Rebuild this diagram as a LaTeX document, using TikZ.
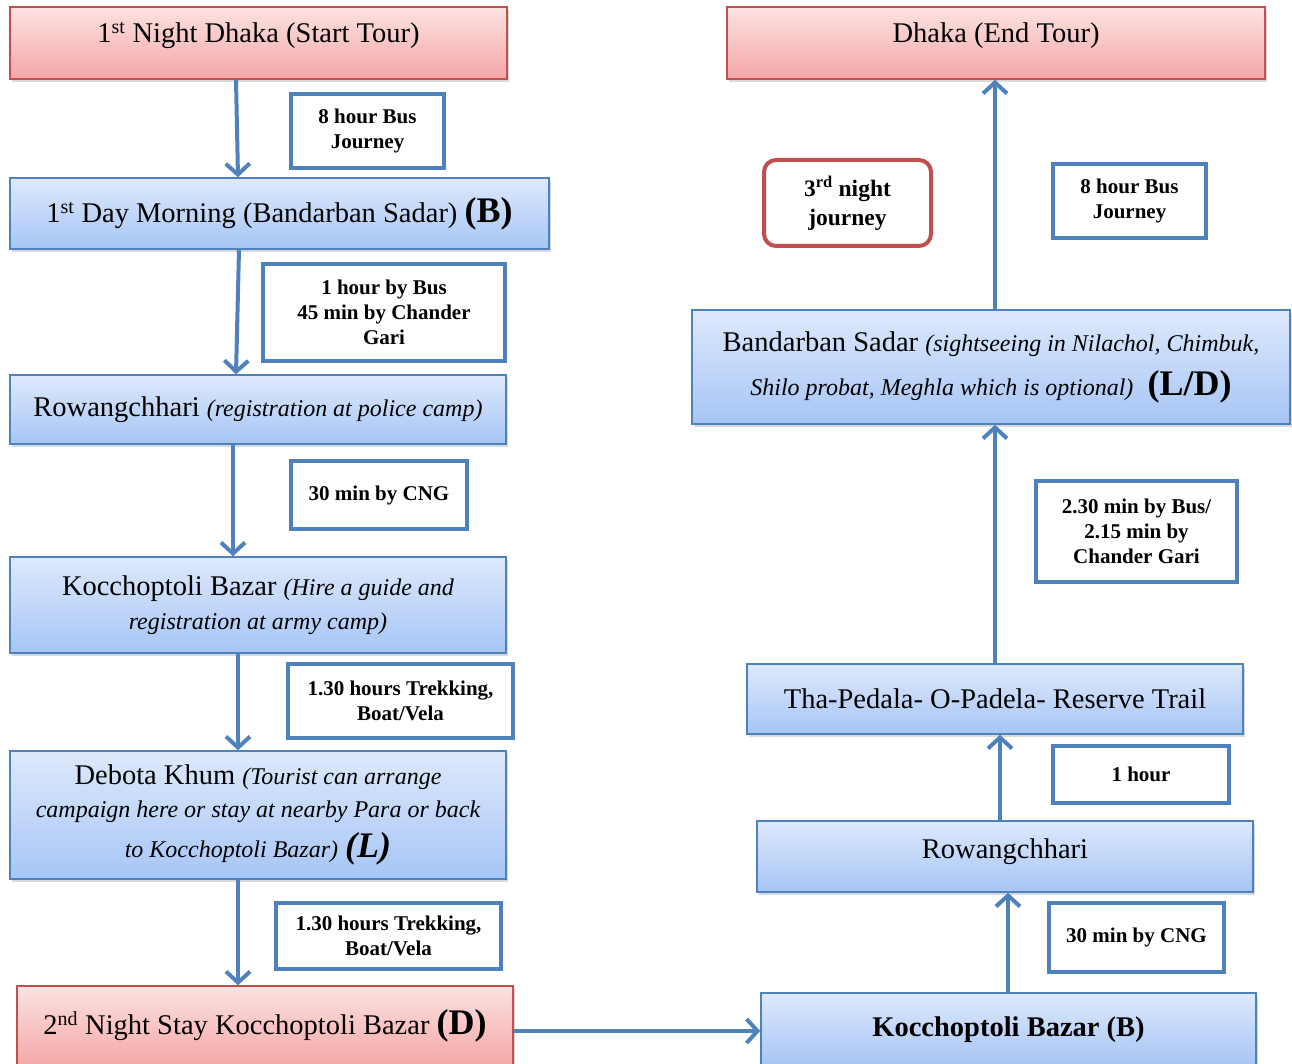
\documentclass[tikz,border=0pt]{standalone}
\usepackage{fontspec}
\setmainfont{Liberation Serif}
\usetikzlibrary{arrows.meta,shadows}
\definecolor{bordblue}{RGB}{79,129,189}
\definecolor{bordred}{RGB}{192,80,77}
\definecolor{bluetop}{RGB}{222,233,252}
\definecolor{bluebot}{RGB}{166,197,245}
\definecolor{redtop}{RGB}{253,226,226}
\definecolor{redbot}{RGB}{244,166,166}
\definecolor{arrowblue}{RGB}{79,129,189}
\newcommand\fM{\fontsize{28.5}{34}\selectfont}
\newcommand\fI{\fontsize{24}{34}\selectfont\itshape}
\newcommand\fB{\fontsize{36}{34}\selectfont\bfseries}
\newcommand\fL{\fontsize{21}{25}\selectfont\bfseries}
\begin{document}
\begin{tikzpicture}[x=1pt,y=-1pt,
 box/.style={draw, line width=1.5pt, rectangle, align=center, inner sep=0pt,
   drop shadow={shadow xshift=2pt,shadow yshift=-3pt,opacity=0.3}},
 bluebox/.style={box, draw=bordblue, top color=bluetop, bottom color=bluebot},
 redbox/.style={box, draw=bordred, top color=redtop, bottom color=redbot},
 lbl/.style={draw=bordblue, line width=4pt, fill=white, align=center, inner sep=0pt, font=\fL},
 flow/.style={draw=arrowblue, line width=4pt, -{Straight Barb[length=11pt,width=24pt,line width=4pt]}}
]
\useasboundingbox (0,0) rectangle (1292,1064);

% left column
\node[redbox, minimum width=497pt, minimum height=72pt, font=\fM, text depth=21pt] (A) at (258.5,43)
  {1\textsuperscript{st} Night Dhaka (Start Tour)};
\node[bluebox, minimum width=539pt, minimum height=71pt, font=\fM] (B) at (279.5,213.5)
  {1\textsuperscript{st} Day Morning (Bandarban Sadar) {\fB (B)}};
\node[bluebox, minimum width=496pt, minimum height=69pt, font=\fM] (C) at (258,409.5)
  {Rowangchhari {\fI (registration at police camp)}};
\node[bluebox, minimum width=496pt, minimum height=96pt, font=\fM] (D) at (258,605)
  {Kocchoptoli Bazar {\fI (Hire a guide and}\\ {\fI registration at army camp)}};
\node[bluebox, minimum width=496pt, minimum height=128pt, font=\fontsize{28.5}{33}\selectfont] (E) at (258,815)
  {Debota Khum {\fI (Tourist can arrange}\\ {\fI campaign here or stay at nearby Para or back}\\[7pt]
   {\fI to Kocchoptoli Bazar)} {\fontsize{36}{34}\selectfont\bfseries\itshape (L)}};
\node[redbox, minimum width=496pt, minimum height=80pt, font=\fM] (F) at (265,1026)
  {2\textsuperscript{nd} Night Stay Kocchoptoli Bazar {\fB (D)}};

\node[lbl, minimum width=153pt, minimum height=74pt] (L1) at (367.5,131) {8 hour Bus\\Journey};
\node[lbl, minimum width=242pt, minimum height=97pt] (L2) at (384,312.5) {1 hour by Bus\\45 min by Chander\\Gari};
\node[lbl, minimum width=176pt, minimum height=68pt] (L3) at (379,495) {30 min by CNG};
\node[lbl, minimum width=225pt, minimum height=74pt] (L4) at (400.5,701) {1.30 hours Trekking,\\Boat/Vela};
\node[lbl, minimum width=225pt, minimum height=66pt] (L5) at (388.5,936) {1.30 hours Trekking,\\Boat/Vela};

% right column
\node[redbox, minimum width=538pt, minimum height=72pt, font=\fM, text depth=21pt] (R0) at (996,43) {Dhaka (End Tour)};
\node[draw=bordred, line width=4pt, rounded corners=12pt, fill=white, align=center, inner sep=0pt,
  minimum width=167pt, minimum height=86pt, font=\fontsize{23.5}{29}\selectfont\bfseries] (N) at (847.5,203)
  {3\textsuperscript{rd} night\\journey};
\node[lbl, minimum width=153pt, minimum height=74pt] (L6) at (1129.5,201) {8 hour Bus\\Journey};
\node[bluebox, minimum width=598pt, minimum height=114pt, font=\fontsize{28.5}{44}\selectfont] (R3) at (991,367)
  {Bandarban Sadar {\fI (sightseeing in Nilachol, Chimbuk,}\\
   {\fI Shilo probat, Meghla which is optional)}\ \ {\fB (L/D)}};
\node[lbl, minimum width=201pt, minimum height=101pt] (L7) at (1136.5,531.5) {2.30 min by Bus/\\2.15 min by\\Chander Gari};
\node[bluebox, minimum width=496pt, minimum height=70pt, font=\fM] (R2) at (995,699) {Tha-Pedala- O-Padela- Reserve Trail};
\node[lbl, minimum width=176pt, minimum height=57pt] (L8) at (1141,774.5) {1 hour};
\node[bluebox, minimum width=496pt, minimum height=71pt, font=\fM, text depth=16pt] (R1b) at (1005,856.5) {Rowangchhari};
\node[lbl, minimum width=175pt, minimum height=69pt] (L9) at (1136.5,937.5) {30 min by CNG};
\node[bluebox, minimum width=495pt, minimum height=73pt, font=\fM\bfseries] (R1) at (1008.5,1029.5) {Kocchoptoli Bazar (B)};

% connectors
\draw[flow] ([xshift=-22.5pt]A.south) -- ([xshift=-41.5pt]B.north);
\draw[flow] ([xshift=-40.5pt]B.south) -- ([xshift=-22pt]C.north);
\draw[flow] ([xshift=-25pt]C.south) -- ([xshift=-25pt]D.north);
\draw[flow] ([xshift=-20pt]D.south) -- ([xshift=-20pt]E.north);
\draw[flow] ([xshift=-20pt]E.south) -- ([xshift=-27pt]F.north);
\draw[flow] ([yshift=-5pt]F.east) -- ([yshift=-1.5pt]R1.west);
\draw[flow] ([xshift=-0.5pt]R1.north) -- ([xshift=3pt]R1b.south);
\draw[flow] ([xshift=-5pt]R1b.north) -- ([xshift=5pt]R2.south);
\draw[flow] (R2.north) -- ([xshift=4pt]R3.south);
\draw[flow] ([xshift=4pt]R3.north) -- ([xshift=-1pt]R0.south);
\end{tikzpicture}
\end{document}
